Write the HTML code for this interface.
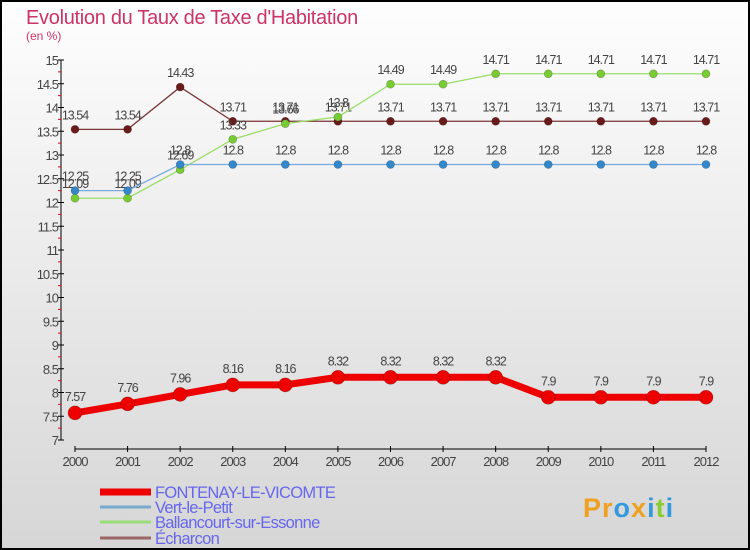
<!DOCTYPE html>
<html><head><meta charset="utf-8">
<style>
html,body{margin:0;padding:0}
body{width:750px;height:550px;overflow:hidden;font-family:"Liberation Sans",sans-serif}
</style></head>
<body>
<svg id="chart" width="750" height="550" xmlns="http://www.w3.org/2000/svg" style="display:block">
<defs>
<linearGradient id="bg" x1="0" y1="0" x2="0" y2="1">
<stop offset="0" stop-color="#fefefe"/><stop offset="1" stop-color="#d6d6d6"/>
</linearGradient>
</defs>
<rect x="1" y="1" width="748" height="548" fill="url(#bg)" stroke="#000" stroke-width="2"/>
<text x="26" y="24" font-size="20" fill="#cc3366" letter-spacing="-0.3">Evolution du Taux de Taxe d'Habitation</text>
<text x="26" y="40" font-size="12" fill="#cc3366">(en %)</text>
<g id="axes"></g>
<g id="series"></g>
<g id="legend"></g>
<text x="583" y="517" font-size="27" font-weight="bold" fill="#f0a020" letter-spacing="1">Pr<tspan fill="#3399dd">o</tspan><tspan fill="#f0a020">x</tspan><tspan fill="#3399dd">i</tspan><tspan fill="#88cc33">t</tspan><tspan fill="#3399dd">i</tspan></text>
</svg>
<script>
const years=[2000,2001,2002,2003,2004,2005,2006,2007,2008,2009,2010,2011,2012];
const yTicks=[7,7.5,8,8.5,9,9.5,10,10.5,11,11.5,12,12.5,13,13.5,14,14.5,15];
const fontenay=[7.57,7.76,7.96,8.16,8.16,8.32,8.32,8.32,8.32,7.9,7.9,7.9,7.9];
const vert=[12.25,12.25,12.8,12.8,12.8,12.8,12.8,12.8,12.8,12.8,12.8,12.8,12.8];
const ballan=[12.09,12.09,12.69,13.33,13.66,13.8,14.49,14.49,14.71,14.71,14.71,14.71,14.71];
const echarcon=[13.54,13.54,14.43,13.71,13.71,13.71,13.71,13.71,13.71,13.71,13.71,13.71,13.71];
const seriesNames=["FONTENAY-LE-VICOMTE","Vert-le-Petit","Ballancourt-sur-Essonne","Écharcon"];

const NS="http://www.w3.org/2000/svg";
const x0=75,x1=706,yTop=60,yBot=440,vMin=7,vMax=15;
const xs=i=>x0+(x1-x0)*i/(years.length-1);
const ys=v=>yBot-(v-vMin)/(vMax-vMin)*(yBot-yTop);
function mk(tag,attrs,parent){const e=document.createElementNS(NS,tag);for(const k in attrs)e.setAttribute(k,attrs[k]);parent.appendChild(e);return e;}
const axes=document.getElementById('axes');
let ax=mk('line',{x1:61,y1:yTop,x2:61,y2:yBot,stroke:'#000','stroke-width':1},axes);


yTicks.forEach(t=>{
  const y=ys(t);
  const tk=mk('line',{x1:58,y1:y,x2:64,y2:y,stroke:'#000'},axes);
  
  
  const lb=mk('text',{x:58,y:y+5,'font-size':13,fill:'#444','text-anchor':'end','letter-spacing':'-1'},axes);
  lb.textContent=String(t);
  
  
  if(t<vMax){const m=mk('line',{x1:58,y1:ys(t+0.25),x2:61,y2:ys(t+0.25),stroke:'#e00'},axes);
  
  }
});
let xa=mk('line',{x1:x0,y1:449,x2:x1,y2:449,stroke:'#000'},axes);


years.forEach((yr,i)=>{
  const tk=mk('line',{x1:xs(i),y1:446,x2:xs(i),y2:452,stroke:'#000'},axes);
  
  
  const lb=mk('text',{x:xs(i),y:466,'font-size':13,fill:'#444','text-anchor':'middle','letter-spacing':'-1'},axes);
  lb.textContent=String(yr);
  
  
});
const sg=document.getElementById('series');
function drawSeries(vals,color,dot,w,r,name,labelOff){
  const g=mk('g',{},sg);
  
  
  const pl=mk('polyline',{points:vals.map((v,i)=>xs(i)+','+ys(v)).join(' '),fill:'none',stroke:color,'stroke-width':w},g);
  
  
  vals.forEach((v,i)=>{
    const c=mk('circle',{cx:xs(i),cy:ys(v),r:r,fill:dot,stroke:'rgba(0,0,0,0.3)','stroke-width':0.6},g);
    
    
    const t=mk('text',{x:xs(i),y:ys(v)-labelOff,'font-size':12.5,fill:'#444','text-anchor':'middle','letter-spacing':'-1'},g);
    t.textContent=String(v);
    
    
  });
}
drawSeries(echarcon,'#7a3535','#6b1a1a',1.3,4,'echarcon',10);
drawSeries(ballan,'#99dd66','#77cc33',1.3,4,'ballancourt',10);
drawSeries(vert,'#77aadd','#3388cc',1.3,4,'vert-le-petit',10);
drawSeries(fontenay,'#ee0000','#ee0000',7,7,'fontenay',12);
const lg=document.getElementById('legend');
const lcol=['#ee0000','#77aacc','#99dd77','#996666'];
const lw=[7,3,3,3];
const ly=[498,513,528,544];
seriesNames.forEach((n,i)=>{
  const l=mk('line',{x1:100,y1:ly[i]-6,x2:151,y2:ly[i]-6,stroke:lcol[i],'stroke-width':lw[i]},lg);
  
  
  const t=mk('text',{x:155,y:ly[i],'font-size':16.5,fill:'#6666ee','letter-spacing':'-0.7'},lg);
  t.textContent=n;
  
  
});
</script>
</body></html>
